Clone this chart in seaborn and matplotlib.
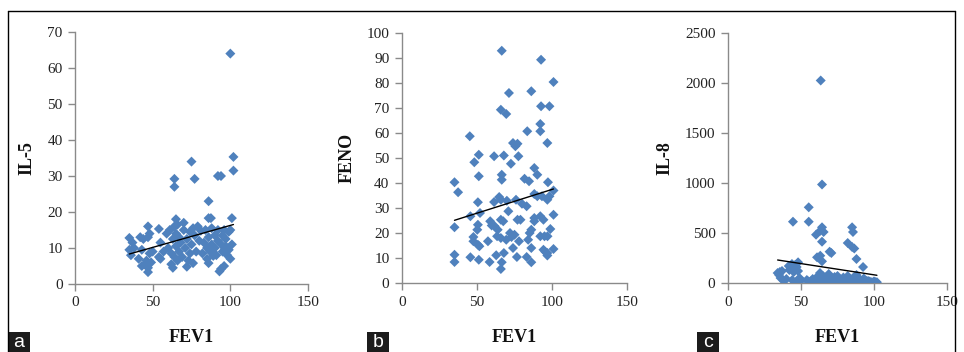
import numpy as np
import pandas as pd
import matplotlib
matplotlib.use("Agg")
import matplotlib.pyplot as plt
import seaborn as sns
from matplotlib.lines import Line2D
from matplotlib.patches import Rectangle

# ---------------- data ----------------
a_fev1 = [100, 102, 102, 75, 64, 64, 77, 92, 94, 86, 86, 87.5, 101, 65,
          35, 35, 36, 37, 38, 41, 42, 43, 43, 44, 45, 46, 47, 47, 47, 47, 48, 48, 49, 50,
          54, 54, 55, 55, 57, 59, 60, 61, 62, 62, 63, 63, 64, 64, 65, 65, 66, 66, 67, 67,
          68, 69, 70, 70, 71, 72, 72, 73, 74, 74, 75, 76, 76, 77, 78, 79, 80, 81, 82, 83,
          84, 85, 85, 86, 86, 87, 88, 88, 89, 90, 90, 91, 92, 92, 93, 94, 94, 95, 95, 96,
          96, 97, 97, 98, 99, 99, 100, 100, 101]
a_il5 = [64, 35.3, 31.5, 34, 29.2, 27, 29.2, 30, 30, 23, 18.3, 18.3, 18.3, 18,
         12.8, 9.5, 8, 11.5, 10, 7, 13, 9.5, 5, 12.5, 5.5, 6.5, 16, 13, 3.3, 4.5, 8.5, 14, 6, 9,
         15.3, 7.5, 7, 11.5, 9, 14, 10, 15, 8.5, 5.5, 12.5, 4.5, 7.5, 16, 14, 10.5, 6.5, 16.5, 13, 9,
         11.5, 7.5, 17, 15, 10, 12.5, 4.8, 6.5, 8.5, 14.5, 11, 15.5, 5.8, 13.5, 9, 16, 12, 14.8, 8.5, 11.5,
         15, 10, 7, 13, 5.8, 9, 15.5, 11, 7.8, 13.5, 10, 8, 15, 12, 3.5, 11, 4.2, 13.5, 9, 15,
         5, 12.5, 10.5, 8, 14.5, 9.5, 7, 15, 11]

b_fev1 = [66.5, 92.7, 101, 71.3, 86.2, 65.9, 69.5, 92.7, 98.3, 45.2, 83.5, 92.2, 92.2, 96.9,
          74, 77, 75.6, 67.9, 51.2, 61.4, 77.6, 72.6, 48.2, 88.2, 51.2, 66.5, 66.5, 90.2,
          81.7, 84.7, 97.3, 35, 37.4, 101, 50.6, 61.4, 64.8, 65.9, 69.9, 76, 80, 83.1,
          88.2, 90.2, 93.3, 96.9, 98.3, 45.6, 52, 70.9, 88.2, 92.2, 101, 35, 50.6, 50.2,
          58.8, 59.8, 61.8, 63.8, 65.9, 67.5, 72, 75, 77, 79, 86.2, 85.1, 88.2, 94.3,
          98.9, 47.6, 47.6, 50.6, 51.6, 57.3, 63.4, 65.9, 69.5, 74, 73, 78, 84.1, 86.2,
          92.2, 95, 97, 94.3, 96.9, 101, 35, 35, 45.6, 51.2, 58.4, 62.8, 66.5, 65.9,
          67.9, 76.6, 83.1, 86.2, 96.9, 95.5]
b_feno = [92.9, 89.3, 80.4, 76, 76.7, 69.3, 67.6, 70.7, 70.7, 58.7, 60.7, 63.6, 60.7, 56,
          56, 55.7, 54.7, 51, 51.3, 50.7, 50.7, 47.7, 48.3, 46, 42.7, 43.3, 41.3, 43.3,
          41.7, 40.7, 40.3, 40.3, 36.3, 37, 32.3, 32.4, 34.4, 33.3, 32.9, 33.3, 31.7, 30.7,
          35.6, 34.7, 34.7, 33.3, 34.7, 26.7, 28, 28.7, 26, 26.7, 27.3, 22.3, 23.3, 21.3,
          24.7, 23, 22.7, 21.3, 25.3, 24.7, 20, 19.3, 25.3, 25.3, 21.3, 20, 24.7, 25.3,
          21.6, 18.4, 16.7, 15.3, 14.7, 16.7, 18.7, 18, 17.3, 14, 18.4, 16.7, 17.3, 14,
          18.7, 18.7, 18.7, 13.3, 12, 13.6, 11.3, 8.4, 10.3, 9.3, 8.4, 11.1, 8.3, 5.6,
          12, 10.4, 10.4, 8.3, 11, 12.5]

c_fev1 = [63.5, 64.4, 55.3, 44.5, 55.3, 64.4, 63.2, 65.5, 60.3, 64.4, 85, 85.6, 82, 85,
          86.5, 69.6, 70.8, 88, 61, 63.2, 64.4, 48, 92.5, 41.6, 43.8, 46, 35.5, 35,
          34, 36, 37, 38, 40, 42, 43, 44, 45, 46, 47, 47, 48, 49, 50, 54, 55, 56, 57, 58,
          60, 61, 62, 62, 63, 63, 64, 65, 65, 66, 67, 68, 69, 70, 71, 72, 73, 74, 75, 76,
          77, 78, 79, 80, 81, 82, 83, 84, 85, 86, 87, 88, 89, 90, 91, 92, 93, 94, 95, 96,
          97, 98, 99, 100, 101, 102, 100, 96, 89, 75, 98, 101, 94, 91]
c_il8 = [2025, 985, 757, 613, 613, 557, 523, 510, 483, 413, 557, 510, 400, 360,
         345, 313, 300, 240, 257, 273, 217, 207, 160, 170, 190, 160, 110, 80,
         100, 50, 120, 25, 40, 130, 150, 30, 110, 180, 160, 15, 120, 50, 25, 30, 15, 5, 20, 40,
         10, 60, 25, 5, 100, 45, 10, 70, 30, 5, 55, 20, 90, 40, 5, 25, 60, 10, 5, 40,
         20, 5, 55, 25, 10, 70, 40, 15, 5, 55, 25, 80, 10, 40, 5, 25, 45, 10, 20, 5,
         15, 8, 5, 15, 5, 8, 12, 20, 35, 70, 5, 8, 10, 5]

panels = [
    ("a", "IL-5", a_fev1, a_il5, 70, [0, 10, 20, 30, 40, 50, 60, 70]),
    ("b", "FENO", b_fev1, b_feno, 100, list(range(0, 101, 10))),
    ("c", "IL-8", c_fev1, c_il8, 2500, [0, 500, 1000, 1500, 2000, 2500]),
]
x_ticks = [0, 50, 100, 150]

# ---------------- style ----------------
sns.set_style("white")
plt.rcParams["font.family"] = ["Liberation Serif", "DejaVu Serif"]

BLUE = "#4f81bd"
AXC = "#8a8a8a"
W, H = 964, 352

fig = plt.figure(figsize=(W / 100, H / 100), dpi=100)

# pixel boxes for axes: (left, right, top, bottom)
boxes = [(75, 308, 32, 284), (402, 627, 33, 283), (728, 947, 33, 283)]
ylab_x = [27, 347, 665]
tag_x = [8, 367, 697]

for (tag, ylab, xs, ys, ymax, yt), (l, r, t, b), yl, tx in zip(panels, boxes, ylab_x, tag_x):
    ax = fig.add_axes([l / W, 1 - b / H, (r - l) / W, (b - t) / H])
    df = pd.DataFrame({"FEV1": xs, ylab: ys})
    sns.scatterplot(data=df, x="FEV1", y=ylab, marker="D", s=26, color=BLUE,
                    edgecolor="none", linewidth=0, ax=ax, zorder=3)
    sns.regplot(data=df, x="FEV1", y=ylab, scatter=False, ci=None, ax=ax,
                line_kws={"color": "black", "linewidth": 1, "zorder": 4})
    ax.set_xlim(0, 150)
    ax.set_ylim(0, ymax)
    ax.set_xticks(x_ticks)
    ax.set_yticks(yt)
    for s in ["top", "right"]:
        ax.spines[s].set_visible(False)
    for s in ["left", "bottom"]:
        ax.spines[s].set_color(AXC)
        ax.spines[s].set_linewidth(1)
    ax.tick_params(direction="out", length=5, width=1, color=AXC,
                   labelsize=11, labelcolor="#222222", pad=4,
                   left=True, bottom=True)
    ax.set_xlabel("FEV1", fontsize=13, fontweight="bold", color="#111111")
    ax.xaxis.set_label_coords(0.5, (b - 338) / (b - t))
    ax.xaxis.label.set_va("center")
    ax.set_ylabel(ylab, fontsize=13, fontweight="bold", color="#111111")
    ax.yaxis.label.set_va("center")
    ax.yaxis.set_label_coords((yl - l) / (r - l), 0.5)

    # panel tag box
    fig.add_artist(Rectangle((tx / W, 0), 22 / W, 20 / H, transform=fig.transFigure,
                             facecolor="#1c1c1c", edgecolor="none"))
    fig.text((tx + 11) / W, 9.5 / H, tag, color="white", fontsize=14,
             family=["Liberation Sans", "DejaVu Sans"], ha="center", va="center")

# frame lines
ytop = 1 - 11 / H
fig.add_artist(Line2D([8 / W, 955 / W], [ytop, ytop], color="black", lw=1, transform=fig.transFigure))
fig.add_artist(Line2D([8 / W, 8 / W], [0, ytop], color="black", lw=1, transform=fig.transFigure))
fig.add_artist(Line2D([955 / W, 955 / W], [0, ytop], color="black", lw=1, transform=fig.transFigure))

fig.savefig("out.png", dpi=100, facecolor="white")
